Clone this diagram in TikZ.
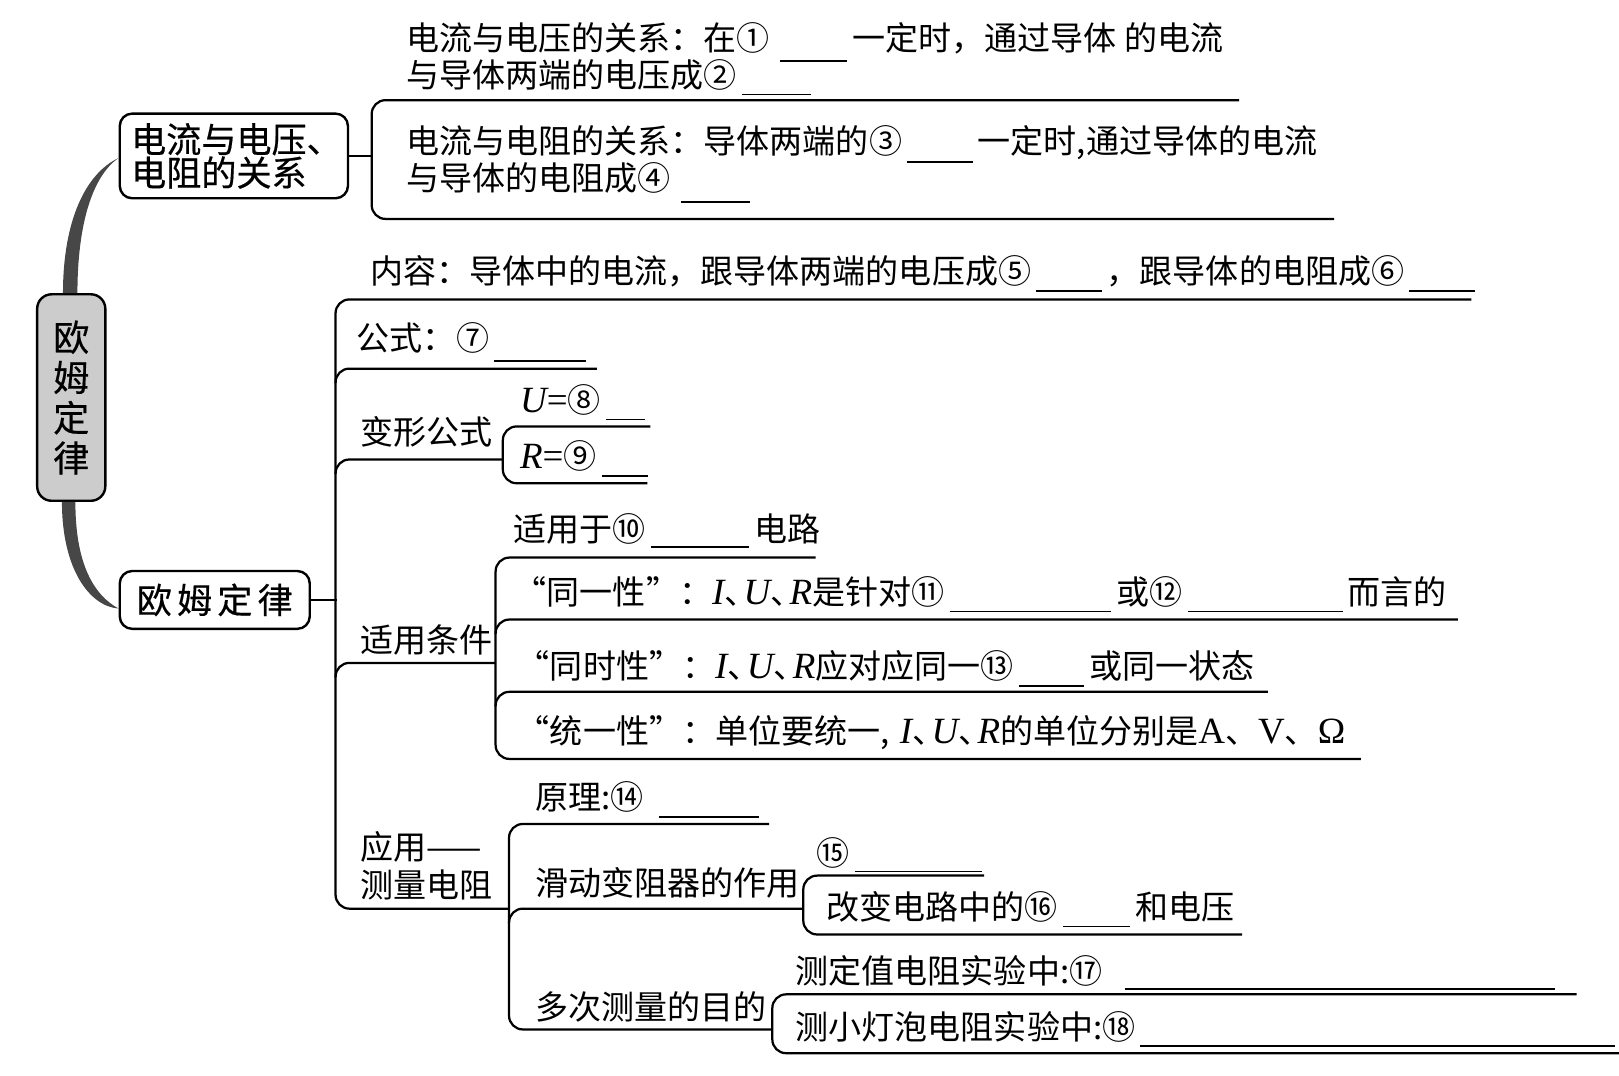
\documentclass[tikz,border=0pt]{standalone}
\usepackage{fontspec}
\setmainfont{Noto Sans CJK SC}
\newfontfamily\latinfont[Scale=1.12]{Liberation Serif}
\newfontfamily\boxfont[FakeBold=0.5]{Noto Sans CJK SC}
\newcommand*{\phys}[1]{{\latinfont\itshape #1}}
\newcommand*{\unitsym}[1]{{\latinfont #1}}
\newcommand*{\dun}{、\hspace{-4pt}}
\newcommand*{\fillin}[2][2.4pt]{\hspace{1.5pt}\smash{\rule[-#1]{#2}{0.5pt}}\hspace{1.5pt}}
\newcommand*{\leafsize}{\fontsize{9.6pt}{10.6pt}\selectfont}
\newcommand*{\boxsize}{\boxfont\fontsize{10.2pt}{9.7pt}\selectfont}
\newcommand*{\rootsize}{\boxfont\fontsize{10.5pt}{11.7pt}\selectfont}
\newcommand*{\fork}[5]{\draw[branch] (#3,#2) -- (#1,#2) -- (#1,#4) -- (#5,#4);}

\begin{document}
\begin{tikzpicture}[x=0.3pt, y=-0.3pt,
    leaf/.style={anchor=west, inner sep=0pt, align=left, font=\leafsize},
    topic/.style={draw, line width=0.7pt, rounded corners=3.6pt, inner sep=0pt, align=center, font=\boxsize},
    branch/.style={line width=0.65pt, rounded corners=4pt},
    taper/.style={fill=black!72}]
    \useasboundingbox (0,0) rectangle (1568,1042);

    % root and the two topics
    \node[topic, fill=black!20, minimum width=19.8pt, minimum height=60pt, rounded corners=4.2pt, font=\rootsize] (root) at (69,385) {欧\\姆\\定\\律};
    \node[topic, minimum width=66.3pt, minimum height=24.6pt, align=left] (rel) at (226.5,151) {\hspace{1.5pt}电流与电压、\\\hspace{1.5pt}电阻的关系};
    \node[topic, minimum width=55.2pt, minimum height=16.8pt] (ohm) at (208,581) {欧\hspace{1.5pt}姆\hspace{1.5pt}定\hspace{1.5pt}律};

    \fill[taper] ([xshift=-2.4pt]root.north) .. controls +(0,-70) and +(-32,15) .. ([yshift=-0.6pt]rel.west)
        .. controls +(-26,18) and +(0,-65) .. ([xshift=1.8pt]root.north) -- cycle;
    \fill[taper] ([xshift=-2.7pt]root.south) .. controls +(0,65) and +(-28,-2) .. ([yshift=-2.5pt]ohm.west)
        .. controls +(-24,-13) and +(0,60) .. ([xshift=1.2pt]root.south) -- cycle;

    % relation of current, voltage, resistance
    \draw[branch] (rel.east) -- ++(23,0);
    \fork{360}{97}{1200}{212}{1292}
    \node[leaf] (a1) at (393,54.5) {电流与电压的关系：在①\hspace{1.5pt}\fillin[3.3pt]{19.5pt}一定时，通过导体 的电流\\与导体两端的电压成②\fillin{20pt}};
    \node[leaf] (a2) at (393,154.5) {电流与电阻的关系：导体两端的③\fillin[2.7pt]{19pt}一定时,通过导体的电流\\与导体的电阻成④\hspace{1.5pt}\fillin[3.6pt]{20pt}};

    % Ohm's law
    \draw[branch] (ohm.east) -- ++(25,0);
    \fork{325}{290}{1425}{880}{493}
    \fork{487}{413}{630}{468}{627}
    \fork{480}{540}{790}{735}{1318}
    \fork{493}{798}{745}{997}{748}
    \fork{778}{848}{953}{905}{1203}
    \fork{748}{963}{1527}{1020}{1568}
    \foreach \x/\y/\e in {325/357/578, 325/445/487, 325/642/480, 480/600/1412, 480/670/1228, 493/880/778}
        \draw[branch] (\x,\y+14) |- (\e,\y);

    \node[leaf] (b1) at (358,263) {内容：导体中的电流，跟导体两端的电压成⑤\fillin{19pt}，跟导体的电阻成⑥\fillin{19pt}};
    \node[leaf] (b2) at (345,327) {公式：⑦\fillin[3.3pt]{26.7pt}};
    \node[leaf] (b3) at (348,418) {变形公式};
    \node[leaf] (b3u) at (503,387) {\phys{U}\unitsym{=}⑧\fillin{11.4pt}};
    \node[leaf] (b3r) at (503,442) {\phys{R}\unitsym{=}⑨\fillin{13.5pt}};
    \node[leaf] (b4) at (348,620) {适用条件};
    \node[leaf] (c0) at (497,512) {适用于⑩\fillin[2pt]{28.5pt}电路};
    \node[leaf] (c1) at (497,573) {“同一性”：\phys{I}\dun\phys{U}\dun\phys{R}是针对⑪\fillin{47pt}或⑫\fillin{45pt}而言的};
    \node[leaf] (c2) at (500,645) {“同时性”：\phys{I}\dun\phys{U}\dun\phys{R}应对应同一⑬\fillin{19pt}或同一状态};
    \node[leaf] (c3) at (500,710) {“统一性”：单位要统一,\hspace{3pt}\phys{I}\dun\phys{U}\dun\phys{R}的单位分别是\unitsym{A}、\unitsym{V}、\unitsym{Ω}};
    \node[leaf, font=\fontsize{9.6pt}{11.1pt}\selectfont] (b5) at (348,838.5) {应用——\\测量电阻};
    \node[leaf] (d0) at (518,772) {原理:⑭\hspace{3pt}\fillin{29pt}};
    \node[leaf] (d1) at (518,855) {滑动变阻器的作用};
    \node[leaf] (e0) at (790,826) {⑮\fillin[2pt]{37pt}};
    \node[leaf] (e1) at (800,878) {改变电路中的⑯\fillin{19.5pt}和电压};
    \node[leaf] (d2) at (518,975) {多次测量的目的};
    \node[leaf] (f0) at (770,940) {测定值电阻实验中:⑰\hspace{5pt}\fillin[2pt]{125pt}};
    \node[leaf] (f1) at (770,995) {测小灯泡电阻实验中:⑱\fillin[2pt]{138pt}};
\end{tikzpicture}
\end{document}
